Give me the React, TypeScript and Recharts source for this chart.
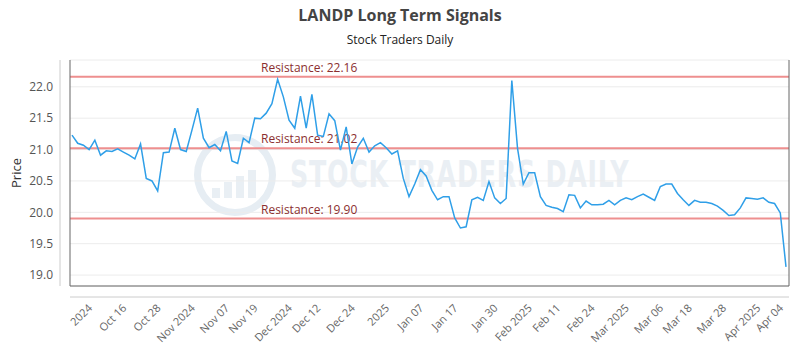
import React from "react";
import {
  LineChart,
  Line,
  XAxis,
  YAxis,
  CartesianGrid,
  ReferenceLine,
} from "recharts";

// closing prices, one per trading session
const prices = [
  21.23, 21.1, 21.07, 21.0, 21.15, 20.91, 20.98, 20.97, 21.01, 20.96,
  20.91, 20.85, 21.09, 20.54, 20.5, 20.34, 20.95, 20.96, 21.34, 21.0,
  20.97, 21.31, 21.66, 21.18, 21.03, 21.08, 20.98, 21.29, 20.82, 20.78,
  21.18, 21.11, 21.5, 21.49, 21.58, 21.73, 22.12, 21.84, 21.47, 21.34,
  21.85, 21.34, 21.88, 21.23, 21.21, 21.57, 21.46, 20.99, 21.36, 20.77,
  21.04, 21.18, 20.96, 21.06, 21.11, 21.03, 20.93, 20.98, 20.54, 20.25,
  20.45, 20.68, 20.58, 20.35, 20.2, 20.25, 20.25, 19.91, 19.75, 19.77,
  20.2, 20.24, 20.19, 20.49, 20.23, 20.14, 20.22, 22.1, 21.02, 20.45,
  20.63, 20.63, 20.25, 20.11, 20.08, 20.06, 20.01, 20.28, 20.27, 20.07,
  20.18, 20.12, 20.12, 20.13, 20.19, 20.12, 20.19, 20.23, 20.2, 20.25,
  20.29, 20.24, 20.19, 20.41, 20.45, 20.45, 20.3, 20.2, 20.11, 20.19,
  20.16, 20.16, 20.14, 20.1, 20.03, 19.95, 19.96, 20.07, 20.23, 20.22,
  20.21, 20.23, 20.16, 20.14, 19.99, 19.13,
];

const tickIndex = [
  3, 9, 15, 21, 27, 32, 38, 43, 49, 55, 61, 67, 74, 80, 85, 91, 97, 103,
  108, 114, 120, 124,
];
const tickLabels = [
  "2024", "Oct 16", "Oct 28", "Nov 2024", "Nov 07", "Nov 19", "Dec 2024",
  "Dec 12", "Dec 24", "2025", "Jan 07", "Jan 17", "Jan 30", "Feb 2025",
  "Feb 11", "Feb 24", "Mar 2025", "Mar 06", "Mar 18", "Mar 28", "Apr 2025",
  "Apr 04",
];

const priceTicks = [19.0, 19.5, 20.0, 20.5, 21.0, 21.5, 22.0];
const resistance = [22.16, 21.02, 19.9];

const FONT = "'Open Sans', sans-serif";
const Y_DOMAIN = [18.826, 22.427];

const data = prices.map((price, i) => ({ i, price }));

function XTick({ x, y, payload }: any) {
  const k = tickIndex.indexOf(payload.value);
  const label = k >= 0 ? tickLabels[k] : "";
  return (
    <text
      x={x + 1}
      y={y + 1}
      transform={`rotate(-45, ${x + 1}, ${y + 1})`}
      textAnchor="end"
      dy="0.35em"
      fontSize={11}
      fill="#666"
      fontFamily={FONT}
    >
      {label}
    </text>
  );
}

function ResLabel({ viewBox, text }: any) {
  return (
    <text
      x={viewBox.x + 191}
      y={viewBox.y - 5}
      fontSize={12}
      fill="#8b2f2f"
      fontFamily={FONT}
    >
      {text}
    </text>
  );
}

export default function App() {
  return (
    <div
      style={{
        position: "absolute",
        left: 0,
        top: 0,
        width: 800,
        height: 350,
        background: "#fff",
        fontFamily: FONT,
      }}
    >
      <div
        style={{
          position: "absolute",
          top: 4,
          width: 800,
          textAlign: "center",
          fontSize: 16,
          fontWeight: 700,
          color: "#444",
        }}
      >
        LANDP Long Term Signals
      </div>
      <div
        style={{
          position: "absolute",
          top: 31,
          width: 800,
          textAlign: "center",
          fontSize: 12,
          color: "#222",
        }}
      >
        Stock Traders Daily
      </div>
      {/* watermark logo */}
      <div
        style={{
          position: "absolute",
          left: 194,
          top: 134,
          width: 82,
          height: 82,
          borderRadius: "50%",
          border: "7px solid #e6edf3",
          boxSizing: "border-box",
        }}
      />
      {[0, 1, 2, 3].map((b) => (
        <div
          key={b}
          style={{
            position: "absolute",
            left: 212 + b * 12,
            top: [188, 182, 176, 170][b],
            width: 8,
            height: [22, 28, 34, 40][b] - 12,
            background: "#e9eff4",
          }}
        />
      ))}
      <div
        style={{
          position: "absolute",
          left: 290,
          top: 152,
          fontSize: 38,
          fontWeight: 700,
          letterSpacing: 1,
          color: "#eaeff4",
          fontFamily: "'Liberation Sans Narrow', 'DejaVu Sans Condensed', sans-serif",
          transform: "scaleX(0.74)",
          transformOrigin: "left",
          whiteSpace: "nowrap",
        }}
      >
        STOCK TRADERS DAILY
      </div>
      <div style={{ position: "absolute", left: 0, top: 0 }}>
        <LineChart
          width={800}
          height={350}
          data={data}
          margin={{ top: 60, right: 10, bottom: 0, left: 0 }}
        >
          <CartesianGrid
            vertical={false}
            stroke="#ececec"
            xAxisId="frame"
            yAxisId="labels"
          />
          <XAxis
            xAxisId="frame"
            dataKey="i"
            type="number"
            domain={[0, prices.length - 1]}
            padding={{ left: 2, right: 3 }}
            height={11}
            tick={false}
            tickLine={false}
            axisLine={{ stroke: "#666", strokeWidth: 1 }}
          />
          <XAxis
            xAxisId="labels"
            dataKey="i"
            type="number"
            domain={[0, prices.length - 1]}
            padding={{ left: 2, right: 3 }}
            ticks={tickIndex}
            interval={0}
            height={53}
            tick={<XTick />}
            tickLine={false}
            axisLine={{ stroke: "#ccc", strokeWidth: 1 }}
          />
          <YAxis
            yAxisId="frame"
            type="number"
            domain={Y_DOMAIN}
            allowDataOverflow
            width={10}
            tick={false}
            tickLine={false}
            axisLine={{ stroke: "#666", strokeWidth: 1 }}
          />
          <YAxis
            yAxisId="labels"
            type="number"
            domain={Y_DOMAIN}
            allowDataOverflow
            ticks={priceTicks}
            interval={0}
            width={60}
            tickSize={0}
            tickMargin={7}
            tickFormatter={(v: number) => v.toFixed(1)}
            tick={{ fontSize: 12, fill: "#555", fontFamily: FONT }}
            tickLine={false}
            axisLine={{ stroke: "#ccc", strokeWidth: 1 }}
            label={{
              value: "Price",
              angle: -90,
              position: "insideLeft",
              offset: 16,
              style: { fontSize: 13, fill: "#333", fontFamily: FONT, textAnchor: "middle" },
            }}
          />
          <YAxis
            yAxisId="right"
            orientation="right"
            type="number"
            domain={Y_DOMAIN}
            allowDataOverflow
            width={1}
            tick={false}
            tickLine={false}
            axisLine={{ stroke: "#666", strokeWidth: 1 }}
          />
          {resistance.map((r) => (
            <ReferenceLine
              key={r}
              y={r}
              xAxisId="frame"
              yAxisId="frame"
              stroke="#ee8f8f"
              strokeWidth={2}
              label={<ResLabel text={`Resistance: ${r.toFixed(2)}`} />}
            />
          ))}
          <Line
            xAxisId="frame"
            yAxisId="frame"
            dataKey="price"
            stroke="#2f9fe8"
            strokeWidth={1.5}
            dot={false}
            isAnimationActive={false}
          />
        </LineChart>
      </div>
    </div>
  );
}
